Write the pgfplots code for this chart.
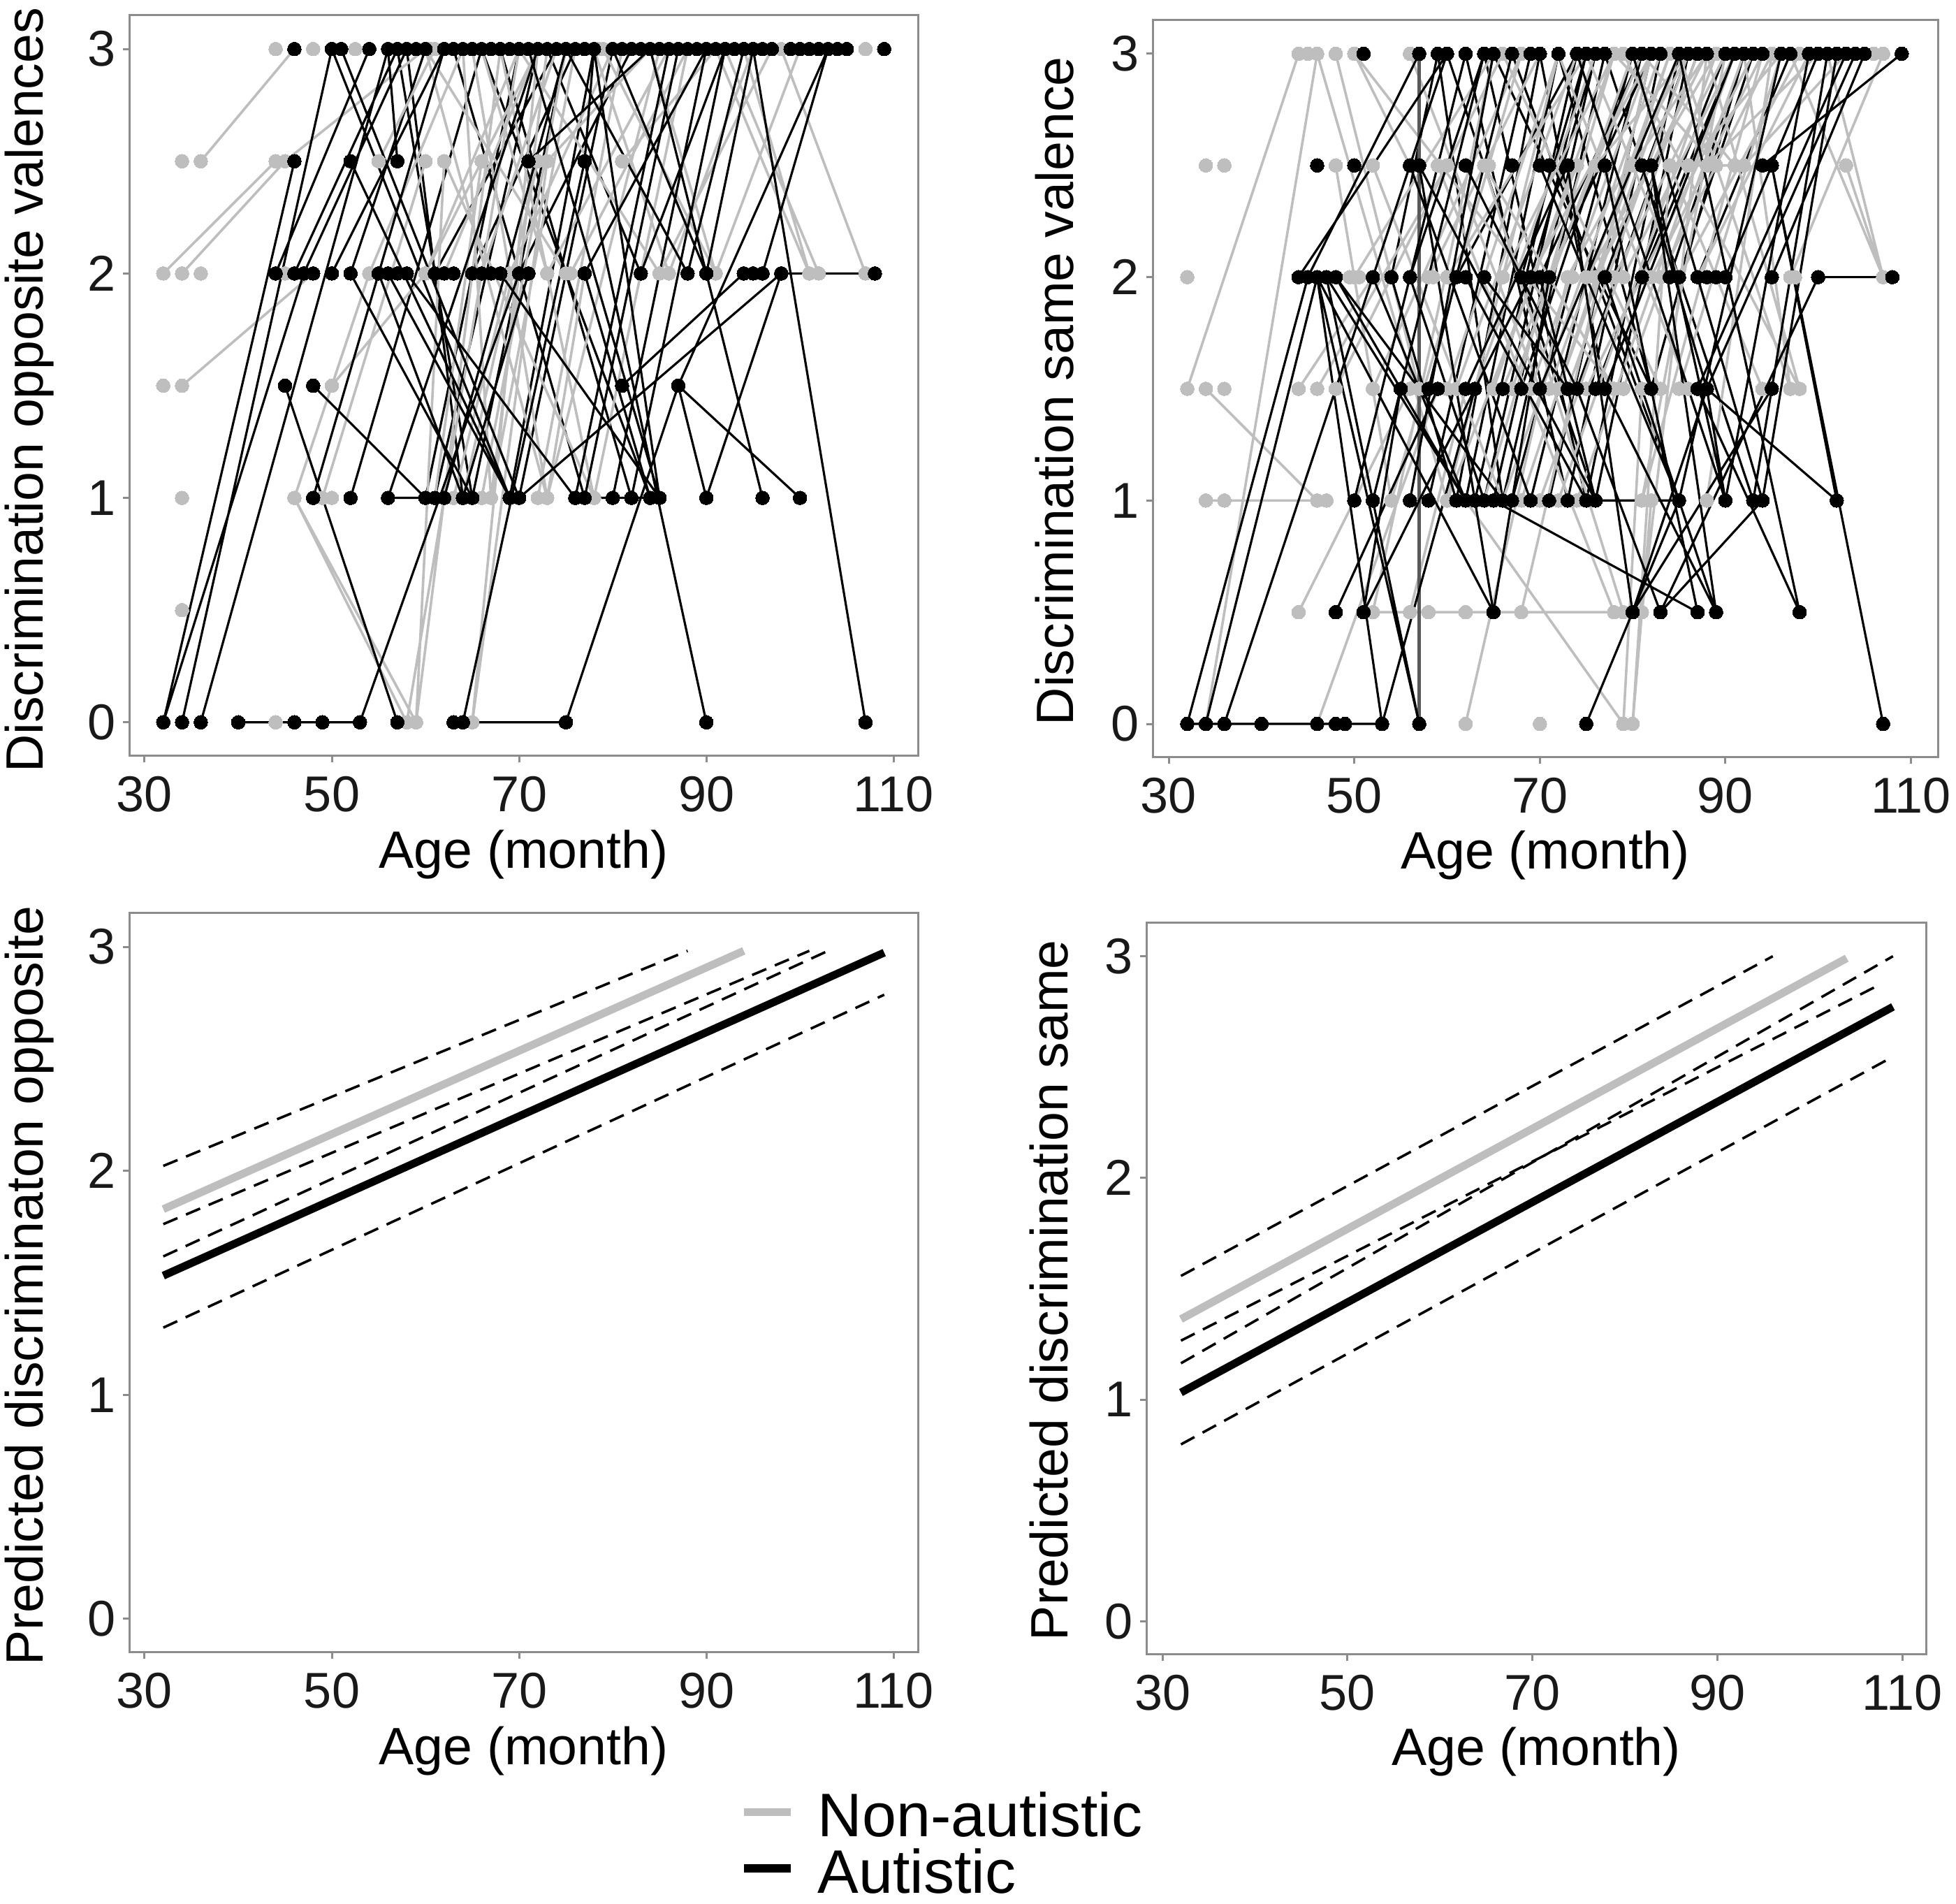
\documentclass[border=0pt]{standalone}
\usepackage{fontspec}
\setmainfont{Liberation Sans}
\usepackage{pgfplots}
\pgfplotsset{compat=1.18}
\definecolor{nonaut}{HTML}{BEBEBE}
\definecolor{frame}{HTML}{8C8C8C}
\pgfplotsset{
  panel/.style={
    scale only axis,
    anchor=south west,
    /pgf/number format/assume math mode=true,
    axis line style={frame,line width=0.75pt},
    tick style={frame,line width=0.75pt},
    tick align=outside,
    major tick length=2.3pt,
    axis x line*=bottom,
    axis y line*=left,
    axis lines=box,
    xtick={30,50,70,90,110},
    ytick={0,1,2,3},
    xtick pos=bottom,
    ytick pos=left,
    ymin=-0.15, ymax=3.15,
    tick label style={font=\fontsize{18}{20}\selectfont,text=black!90},
    y tick label style={xshift=1pt},
    x tick label style={yshift=-1.5pt},
    xlabel={Age (month)},
    xlabel style={font=\fontsize{18.8}{22}\selectfont,at={(axis description cs:0.5,-0.133)},anchor=center},
    ylabel style={font=\fontsize{18.8}{22}\selectfont,at={(axis description cs:-0.127,0.494)},anchor=center},
    unbounded coords=jump,
  },
  gseg/.style={nonaut,line width=0.9pt,mark=*,mark size=2.45pt,mark options={fill=nonaut,draw=nonaut,line width=0pt}},
  kseg/.style={black,line width=0.8pt,mark=*,mark size=2.45pt,mark options={fill=black,draw=black,line width=0pt}},
  kline/.style={black,line width=0.8pt,mark=none},
  gdot/.style={only marks,mark=*,mark size=2.45pt,mark options={fill=nonaut,draw=nonaut,line width=0pt}},
  kdot/.style={only marks,mark=*,mark size=2.45pt,mark options={fill=black,draw=black,line width=0pt}},
  ci/.style={black,line width=0.9pt,dash pattern=on 5.5pt off 3.3pt,forget plot},
}
\begin{document}
\begin{tikzpicture}
\useasboundingbox (0,0) rectangle (700pt,681.25pt);

% top left
\begin{axis}[panel,at={(46.25pt,410.75pt)},width=282.25pt,height=265pt,
  xmin=28.36,xmax=112.6,ylabel={Discrimination opposite valences}]
% black lines that run under the grey ones
\addplot[kline] coordinates {
 (52,1)(66,3) (nan,nan) (60,1)(70,3) (nan,nan) (61,1)(72,3) (nan,nan) (65,1)(75,3) (nan,nan)
 (69,1)(78,3) (nan,nan) (70,1)(80,3) (nan,nan) (61,2)(74,3) (nan,nan) (65,2)(76,3) (nan,nan)
 (70,2)(82,3) (nan,nan) (83,2)(73,3) (nan,nan) (66,3)(84,1) (nan,nan) (63,3)(77,1) (nan,nan)
 (68,3)(82,1) (nan,nan) (52,2)(60,3) (nan,nan) (57,3)(65,1) (nan,nan) (58,3)(64,1)
};
\addplot[gseg] coordinates {
 (36,2.5)(46,3) (nan,nan) (32,2)(44,2.5) (nan,nan) (34,2)(45,2.5) (nan,nan) (34,1.5)(48,2) (nan,nan)
 (45,2.5)(60,3) (nan,nan) (46,1)(58,0) (nan,nan) (46,1)(59,0) (nan,nan) (49,1)(60,2.5) (nan,nan)
 (50,1.5)(60,2) (nan,nan) (46,1)(54,2) (nan,nan) (65,0)(73,2.5) (nan,nan) (59,0)(68,3) (nan,nan)
 (58,0)(66,2) (nan,nan) (65,0)(72,3) (nan,nan) (59,0)(62,2.5) (nan,nan) (58,0)(62,1) (nan,nan)
 (67,1)(73,3) (nan,nan) (72,1)(81,3) (nan,nan) (73,1)(85,3) (nan,nan) (78,1)(88,3) (nan,nan)
 (54,2)(64,3) (nan,nan) (60,2)(70,3) (nan,nan) (73,2)(86,3) (nan,nan) (75,2)(60,3) (nan,nan)
 (85,2)(70,3) (nan,nan) (86,2)(78,3) (nan,nan) (91,2)(79,3) (nan,nan) (101,2)(91,3) (nan,nan)
 (102,2)(92,3) (nan,nan) (107,2)(98,3) (nan,nan) (91,2)(100,3) (nan,nan) (85,2)(97,3) (nan,nan)
 (62,2.5)(78,1) (nan,nan) (73,2.5)(84,3) (nan,nan) (81,2.5)(91,3) (nan,nan) (55,2.5)(61,3) (nan,nan)
 (60,3)(73,1) (nan,nan) (65,3)(73,1) (nan,nan) (68,3)(78,1) (nan,nan) (64,3)(67,1) (nan,nan)
 (61,1)(66,2.5) (nan,nan) (62,1)(70,3) (nan,nan) (63,1)(69,2) (nan,nan) (64,1)(72,2.5) (nan,nan)
 (66,1)(75,3) (nan,nan) (67,1)(76,3) (nan,nan) (62,2)(72,3) (nan,nan) (66,2)(74,3) (nan,nan)
 (73,1)(77,2) (nan,nan) (69,2)(80,3) (nan,nan) (75.5,2)(88,3) (nan,nan) (73,2)(66,3) (nan,nan)
 (60,2)(72,3) (nan,nan) (86,2)(95,3) (nan,nan) (91,2)(84,3) (nan,nan) (101,2)(94,3)
};
\addplot[gdot] coordinates {
 (44,3)(48,3)(52.5,3)(60.5,3)(78.5,3)(107,3)
 (34,2.5)(36,2.5)(44,2.5)(45,2.5)(55,2.5)(62,2.5)(73,2.5)(81,2.5)
 (32,2)(34,2)(36,2)(45,2)(48,2)(54,2)(60,2)(73,2)(75.5,2)(85,2)(86,2)(91,2)(101,2)(102,2)(107,2)
 (32,1.5)(34,1.5)(50,1.5)
 (34,1)(46,1)(49,1)(50,1)(67,1)(72,1)(73,1)(78,1)
 (34,0.5)
 (44,0)(58,0)(59,0)(65,0)
};
\addplot[kseg] coordinates {
 (32,0)(46,2.5) (nan,nan) (32,0)(47,2) (nan,nan) (34,0)(50,3) (nan,nan) (36,0)(56,3) (nan,nan)
 (45,1.5)(57,0) (nan,nan) (48,1.5)(60,1) (nan,nan) (53,0)(70,2) (nan,nan) (64,0)(77,2.5) (nan,nan)
 (75,0)(87,1.5) (nan,nan) (77,2.5)(90,0) (nan,nan) (95,3)(107,0) (nan,nan) (81,1.5)(94,2) (nan,nan)
 (70,1)(98,2) (nan,nan) (87,1.5)(100,1) (nan,nan) (87,1.5)(90,1) (nan,nan) (90,1)(98,2) (nan,nan)
 (84,3)(96,1) (nan,nan) (87,1.5)(103,3) (nan,nan) (50,3)(69,1) (nan,nan) (51,3)(70,1) (nan,nan)
 (52,2.5)(69,1) (nan,nan) (56,3)(57,2.5) (nan,nan) (71,2.5)(84,3) (nan,nan) (77,2.5)(78,3) (nan,nan)
 (56,2)(69,1) (nan,nan) (52,2)(65,1) (nan,nan)
 (55,2)(64,1) (nan,nan) (58,2)(76,1) (nan,nan) (48,1)(62,3) (nan,nan)
 (56,1)(72,3) (nan,nan) (62,1)(75,3) (nan,nan)
 (64,1)(71,2) (nan,nan)
 (76,1)(86,3) (nan,nan) (77,1)(87,3) (nan,nan) (80,1)(90,3) (nan,nan) (82,1)(92,3) (nan,nan)
 (84,1)(77,2) (nan,nan) (85,1)(68,2) (nan,nan) (85,1)(78,3) (nan,nan) (44,2)(54,3) (nan,nan)
 (46,2)(57,3) (nan,nan) (47,2)(58,3) (nan,nan) (50,2)(62,3) (nan,nan)
 (77,2)(90,3) (nan,nan)
 (83,2)(92,3) (nan,nan) (88,2)(94,3) (nan,nan) (90,2)(95,3) (nan,nan) (96,2)(103,3) (nan,nan)
 (71,3)(85,1) (nan,nan) (75,3)(88,2) (nan,nan)
 (80,3)(90,2) (nan,nan) (98,2)(108,2) (nan,nan)
 (56,1)(60,1) (nan,nan) (76,1)(85,1) (nan,nan) (40,0)(53,0) (nan,nan) (64,0)(75,0)
};
\addplot[kdot] coordinates {
 (46,3)(50,3)(51,3)(54,3)(56,3)(57,3)(58,3)(59,3)(60,3)(62,3)(63,3)(64,3)(65,3)(66,3)(67,3)(68,3)(69,3)(70,3)(71,3)(72,3)(73,3)(74,3)(75,3)(76,3)(77,3)(80,3)(81,3)(82,3)(83,3)(84,3)(85,3)(86,3)(87,3)(88,3)(89,3)(90,3)(91,3)(92,3)(93,3)(94,3)(95,3)(96,3)(97,3)(99,3)(100,3)(101,3)(102,3)(103,3)(104,3)(105,3)(109,3)
 (46,2.5)(52,2.5)(57,2.5)(71,2.5)(77,2.5)
 (44,2)(46,2)(47,2)(48,2)(50,2)(52,2)(55,2)(56,2)(57,2)(58,2)(61,2)(62,2)(63,2)(65,2)(66,2)(67,2)(68,2)(70,2)(71,2)(77,2)(83,2)(88,2)(90,2)(94,2)(95,2)(96,2)(98,2)(108,2)
 (45,1.5)(48,1.5)(81,1.5)(87,1.5)
 (48,1)(52,1)(56,1)(60,1)(61,1)(62,1)(64,1)(65,1)(69,1)(70,1)(76,1)(77,1)(80,1)(82,1)(84,1)(85,1)(90,1)(96,1)(100,1)
 (32,0)(34,0)(36,0)(40,0)(46,0)(49,0)(53,0)(57,0)(63,0)(64,0)(75,0)(90,0)(107,0)
};
\end{axis}

% top right
\begin{axis}[panel,at={(412.5pt,410.25pt)},width=281pt,height=263.75pt,
  xmin=28.27,xmax=112.9,ylabel={Discrimination same valence},
  ylabel style={at={(axis description cs:-0.125,0.497)}}]
% black lines that run under the grey ones
\addplot[kline] coordinates {
 (54,2)(59,3) (nan,nan) (68,2)(75,3) (nan,nan) (69,2)(76,3) (nan,nan) (71,2)(82,3) (nan,nan)
 (85,2)(93,3) (nan,nan) (84,2)(92,3) (nan,nan) (63,1)(74,3) (nan,nan) (65,1)(76,3) (nan,nan)
 (66,1)(77,3) (nan,nan) (71,1)(82,3) (nan,nan) (73,1)(83,3) (nan,nan) (61,1)(70,3) (nan,nan)
 (68,1.5)(80,3) (nan,nan) (74,1.5)(87,3) (nan,nan) (59,3)(66,1) (nan,nan) (64,3)(75,1) (nan,nan)
 (70,3)(77,1.5) (nan,nan) (72,3)(82,1.5) (nan,nan) (77,2)(86,3) (nan,nan) (81,2)(91,3) (nan,nan)
 (87,2)(97,3) (nan,nan) (76,1.5)(90,3) (nan,nan) (82,1.5)(92,3) (nan,nan)
 (64,1)(75,3) (nan,nan) (67,1)(80,3) (nan,nan) (69,1)(81,3) (nan,nan) (75,1)(85,3) (nan,nan)
 (76,1)(86,3) (nan,nan) (62,1)(72,3) (nan,nan) (58,1)(69,3) (nan,nan) (60,3)(76,1) (nan,nan)
 (62,3)(73,1) (nan,nan) (65,3)(82,1.5) (nan,nan) (67,3)(85,1) (nan,nan) (77,3)(93,1) (nan,nan)
 (61,2)(74,3) (nan,nan) (70,2)(81,3)
};
\addplot[gseg] coordinates {
 (32,1.5)(44,3) (nan,nan) (34,1.5)(46,1) (nan,nan) (34,1)(46,1) (nan,nan) (36,1)(47,1) (nan,nan)
 (46,3)(34,0) (nan,nan) (46,0)(59,1.5) (nan,nan) (48,3)(57,1.5) (nan,nan) (46,3)(60,1) (nan,nan)
 (50,3)(56,2.5) (nan,nan) (52,0.5)(65,3) (nan,nan) (56,0.5)(62,1.5) (nan,nan) (62,0)(73,2) (nan,nan)
 (79,0)(62,1) (nan,nan) (79,0)(81,1.5) (nan,nan) (80,0)(82,1) (nan,nan) (80,0)(84,2.5) (nan,nan)
 (81,0.5)(88,3) (nan,nan) (52,0.5)(78,0.5) (nan,nan) (84,2.5)(91,2.5) (nan,nan) (107,2)(101,3) (nan,nan)
 (107,2)(103,2.5) (nan,nan) (97,1.5)(85,3) (nan,nan) (98,1.5)(88,3) (nan,nan) (97,1.5)(92,3) (nan,nan)
 (107,2)(97,3) (nan,nan) (84,2.5)(94,1.5) (nan,nan) (50,2)(65,3) (nan,nan) (58,2)(70,3) (nan,nan)
 (66,2)(78,3) (nan,nan) (73,2)(86,3) (nan,nan) (75,2)(89,3) (nan,nan) (79,2)(91,3) (nan,nan)
 (97,2)(107,3) (nan,nan) (54,1)(68,3) (nan,nan) (60,1)(72,3) (nan,nan) (60,1)(74,2.5) (nan,nan)
 (44,1.5)(52,2) (nan,nan) (46,1.5)(60,2.5) (nan,nan) (48,1.5)(66,3) (nan,nan) (52,1.5)(68,3) (nan,nan)
 (72,1.5)(85,3) (nan,nan) (79,1.5)(92,3) (nan,nan) (85,1.5)(96,3) (nan,nan) (81,1)(90,3) (nan,nan)
 (88,1)(95,3) (nan,nan) (44,0.5)(56,1.5) (nan,nan) (52,2.5)(66,1) (nan,nan) (59,2.5)(78,0.5) (nan,nan)
 (64,2.5)(79,0.5) (nan,nan) (64,2.5)(78,1.5) (nan,nan) (81,1)(94,3) (nan,nan) (48,2.5)(54,1) (nan,nan)
 (50,3)(78,1.5) (nan,nan) (56,3)(70,1.5) (nan,nan) (79,3)(98,1.5) (nan,nan) (63,1.5)(76,3) (nan,nan)
 (67,1.5)(80,3) (nan,nan) (66,1)(83,3) (nan,nan) (70,1)(87,3) (nan,nan) (69,2)(82,3) (nan,nan)
 (71,1.5)(84,3) (nan,nan) (75,1.5)(93,3) (nan,nan) (68,0.5)(82,3) (nan,nan) (60,2)(75,3) (nan,nan)
 (89,2.5)(78,3) (nan,nan) (91,2.5)(81,3) (nan,nan) (83,2)(95,3) (nan,nan) (87,2)(99,3) (nan,nan)
 (60,1.5)(72,3) (nan,nan) (61,1.5)(74,3) (nan,nan) (65,1.5)(78,3) (nan,nan) (66,1.5)(81,3) (nan,nan)
 (69,1.5)(82,3) (nan,nan) (73,1.5)(86,3) (nan,nan) (76,2)(88,3) (nan,nan) (78,2)(90,3) (nan,nan)
 (71,2)(81,3) (nan,nan) (64,1)(78,3) (nan,nan) (68,1)(84,3) (nan,nan) (72,1)(89,3) (nan,nan)
 (74,1)(91,3) (nan,nan) (82,2)(94,3) (nan,nan) (85,2)(98,3) (nan,nan) (88,2.5)(100,3) (nan,nan)
 (92,2.5)(103,3) (nan,nan) (86,2.5)(96,3) (nan,nan) (80,2.5)(88,3) (nan,nan) (76,2.5)(86,3) (nan,nan)
 (66,3)(83,1.5) (nan,nan) (72,3)(86,1.5) (nan,nan) (75,3)(85,2)
};
\addplot[gdot] coordinates {
 (44,3)(45,3)(46,3)(48,3)(50,3)(56,3)(79,3)(106,3)(107,3)
 (34,2.5)(36,2.5)(48,2.5)(52,2.5)(59,2.5)(64.5,2.5)(84,2.5)(89,2.5)(91,2.5)
 (32,2)(49.5,2)(50.5,2)(58.5,2)(66,2)(73.5,2)(75,2)(79,2)(97.5,2)(107,2)
 (32,1.5)(34,1.5)(36,1.5)(44,1.5)(46,1.5)(48,1.5)(52,1.5)(72,1.5)(79,1.5)(85,1.5)(97,1.5)(98,1.5)
 (34,1)(36,1)(46,1)(47,1)(54,1)(60,1)(81,1)(88,1)
 (44,0.5)(52,0.5)(56,0.5)(58,0.5)(62,0.5)(78,0.5)(81,0.5)
 (62,0)(70,0)(79,0)(80,0)
};
\addplot[black!65,line width=1.1pt] coordinates {(57,0)(57,3)};
\addplot[kseg] coordinates {
 (32,0)(45,2) (nan,nan) (34,0)(46,2) (nan,nan) (36,0)(56,2.5) (nan,nan) (46,2)(57,0) (nan,nan)
 (47,2)(57,0) (nan,nan) (46,2)(53,0) (nan,nan) (53,0)(63,1.5) (nan,nan)
 (44,2)(60,3) (nan,nan) (45,2)(57,3) (nan,nan) (46,2)(65,0.5) (nan,nan) (47,2)(62,1) (nan,nan)
 (48,2)(66,1) (nan,nan) (75,0)(85,1) (nan,nan) (107,0)(95,2.5) (nan,nan) (102,1)(88,1.5) (nan,nan)
 (98,0.5)(87,1.5) (nan,nan) (89,0.5)(77,1.5) (nan,nan) (87,0.5)(65,1) (nan,nan) (80,0.5)(95,1.5) (nan,nan)
 (83,0.5)(100,2) (nan,nan) (83,0.5)(94,1) (nan,nan) (48,0.5)(59,1.5) (nan,nan) (51,0.5)(55,1.5) (nan,nan)
 (51,0.5)(69,2) (nan,nan) (65,0.5)(57,2.5) (nan,nan) (80,0.5)(88,1.5) (nan,nan) (88,1.5)(90,1) (nan,nan)
 (94,2.5)(109,3) (nan,nan) (100,2)(108,2) (nan,nan) (65,0.5)(71,2) (nan,nan) (89,0.5)(77,2) (nan,nan)
 (83,0.5)(74,1.5) (nan,nan) (50,1)(62,3) (nan,nan) (52,1)(64,3) (nan,nan) (56,1)(65,3) (nan,nan)
 (85,1)(96,3) (nan,nan) (90,1)(99,3) (nan,nan) (93,1)(101,3) (nan,nan)
 (94,1)(102,3) (nan,nan) (58,1.5)(67,3) (nan,nan) (62,1.5)(73,2.5) (nan,nan)
 (70,1.5)(85,3) (nan,nan) (77,1.5)(91,3) (nan,nan)
 (87,1.5)(103,3) (nan,nan) (88,1.5)(104,3) (nan,nan) (52,2)(60,3) (nan,nan)
 (56,2)(64,3) (nan,nan)
 (90,2)(100,3) (nan,nan) (95,2)(105,3) (nan,nan)
 (74,3)(90,1) (nan,nan)
 (80,3)(94,1) (nan,nan) (82,2.5)(90,1) (nan,nan) (81,2.5)(88,1.5) (nan,nan) (57,2.5)(76,1) (nan,nan)
 (56,2.5)(69,1) (nan,nan) (62,2.5)(74,1.5) (nan,nan) (70,2.5)(85,1) (nan,nan) (73,2.5)(80,0.5) (nan,nan)
 (77,2.5)(87,0.5) (nan,nan) (82,2.5)(89,0.5) (nan,nan) (85,3)(98,0.5) (nan,nan) (48,2)(62,1) (nan,nan)
 (52,2)(62,1) (nan,nan) (54,2)(61,1) (nan,nan) (56,2)(64,1) (nan,nan) (62,2)(75,1) (nan,nan)
 (64,2)(73,1.5) (nan,nan) (70,2)(76,1) (nan,nan) (32,0)(53,0) (nan,nan) (76,1)(85,1) (nan,nan) (95,2.5)(102,1)
};
\addplot[kdot] coordinates {
 (51,3)(57,3)(59,3)(60,3)(62,3)(64,3)(65,3)(67,3)(69,3)(70,3)(72,3)(74,3)(75,3)(76,3)(77,3)(80,3)(81,3)(82,3)(83,3)(85,3)(86,3)(87,3)(88,3)(90,3)(91,3)(92,3)(93,3)(94,3)(96,3)(97,3)(99,3)(100,3)(101,3)(102,3)(103,3)(104,3)(105,3)(109,3)
 (46,2.5)(50,2.5)(56,2.5)(57,2.5)(62,2.5)(67,2.5)(70,2.5)(71,2.5)(73,2.5)(77,2.5)(81,2.5)(82,2.5)(94,2.5)(95,2.5)
 (44,2)(45,2)(46,2)(47,2)(48,2)(52,2)(54,2)(56,2)(61,2)(62,2)(64,2)(68,2)(69,2)(70,2)(71,2)(77,2)(81,2)(84,2)(85,2)(87,2)(88,2)(89,2)(90,2)(95,2)(100,2)(108,2)
 (55,1.5)(58,1.5)(59,1.5)(62,1.5)(63,1.5)(66,1.5)(68,1.5)(70,1.5)(74,1.5)(76,1.5)(77,1.5)(82,1.5)(87,1.5)(88,1.5)(95,1.5)
 (50,1)(52,1)(56,1)(58,1)(61,1)(62,1)(63,1)(64,1)(65,1)(66,1)(67,1)(69,1)(71,1)(73,1)(75,1)(76,1)(85,1)(90,1)(93,1)(94,1)(102,1)
 (48,0.5)(51,0.5)(65,0.5)(80,0.5)(83,0.5)(87,0.5)(89,0.5)(98,0.5)
 (32,0)(34,0)(36,0)(40,0)(46,0)(48,0)(49,0)(53,0)(57,0)(75,0)(107,0)
};
\end{axis}

% bottom left, holds the legend
\begin{axis}[panel,at={(46.25pt,90pt)},width=282.25pt,height=264.5pt,
  xmin=28.36,xmax=112.6,ylabel={Predicted discriminaton opposite},
  ylabel style={at={(axis description cs:-0.127,0.496)}},
  legend cell align=left,
  legend image code/.code={\draw[#1] (0pt,3pt) -- (16.75pt,3pt);},
  legend style={draw=none,fill=none,at={(axis description cs:0.774,-0.188)},anchor=north west,
    inner sep=0pt,row sep=0pt,column sep=8.25pt,
    font=\fontsize{22}{24}\selectfont,
    nodes={inner sep=0pt,text height=16pt,text depth=4.2pt}}]
\addplot[ci] coordinates {(32,2.022)(88,2.982)};
\addplot[ci] coordinates {(32,1.762)(101,2.982)};
\addplot[ci] coordinates {(32,1.618)(103,2.982)};
\addplot[ci] coordinates {(32,1.30)(109,2.786)};
\addplot[nonaut,line width=2.8pt] coordinates {(32,1.829)(94,2.982)};
\addlegendentry{Non-autistic}
\addplot[black,line width=2.8pt] coordinates {(32,1.532)(109,2.974)};
\addlegendentry{Autistic}
\end{axis}

% bottom right
\begin{axis}[panel,at={(410.25pt,89.25pt)},width=279pt,height=261.75pt,
  xmin=28.26,xmax=112.57,ylabel={Predicted discrimination same},
  ylabel style={at={(axis description cs:-0.1245,0.498)}}]
\addplot[ci] coordinates {(32,1.558)(96,3.0)};
\addplot[ci] coordinates {(32,1.266)(107,2.86)};
\addplot[ci] coordinates {(32,1.164)(109,3.0)};
\addplot[ci] coordinates {(32,0.798)(109,2.547)};
\addplot[nonaut,line width=2.8pt] coordinates {(32,1.363)(104,2.991)};
\addplot[black,line width=2.8pt] coordinates {(32,1.032)(109,2.772)};
\end{axis}
\end{tikzpicture}
\end{document}
